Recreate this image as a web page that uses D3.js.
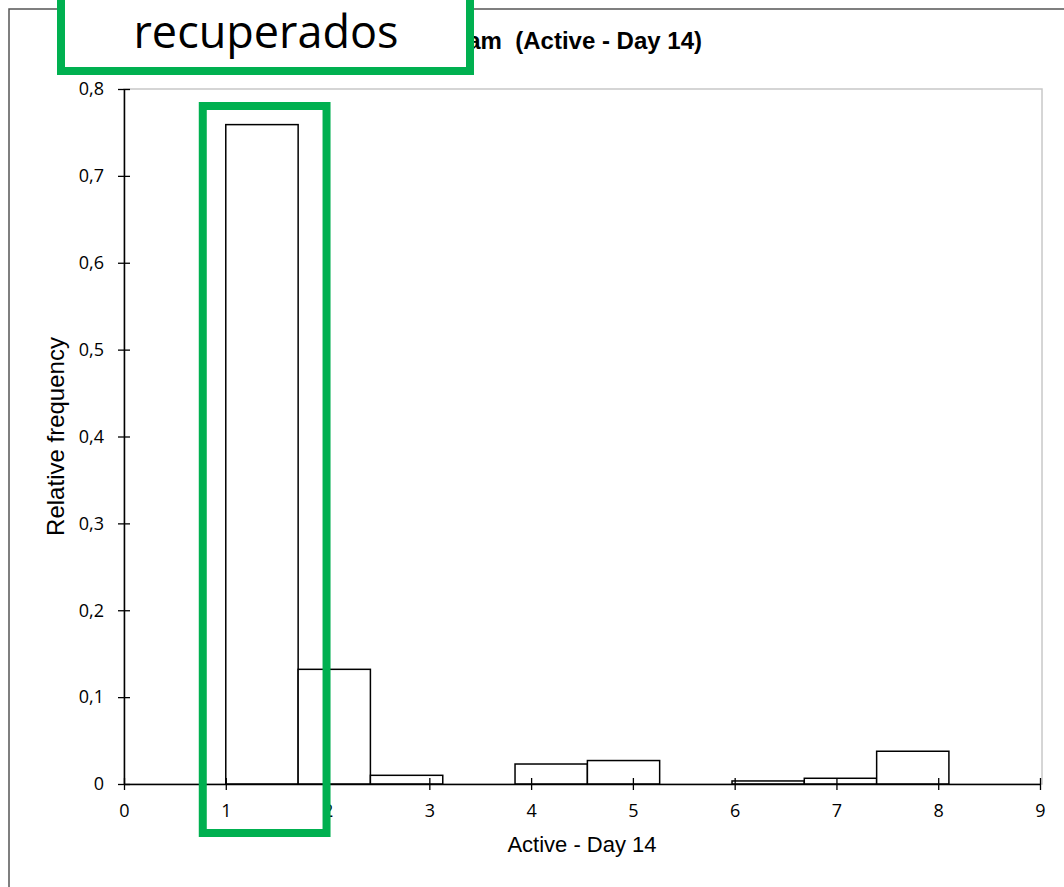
<!DOCTYPE html>
<html>
<head>
<meta charset="utf-8">
<title>Histogram (Active - Day 14)</title>
<script src="https://d3js.org/d3.v7.min.js"></script>
<style>
  body { margin: 0; background: #fff; }
  svg { display: block; }
</style>
</head>
<body>
<div id="chart"></div>
<script>
// bin edges of the histogram (Active - Day 14)
var binEdges = [1, 1.711, 2.421, 3.132, 3.842, 4.553, 5.263, 5.974, 6.684, 7.395, 8.105];
// relative frequency of each bin
var frequencies = [0.759, 0.132, 0.010, 0, 0.023, 0.027, 0, 0.0035, 0.0066, 0.0377];
var xTicks = [0, 1, 2, 3, 4, 5, 6, 7, 8, 9];
var yTicks = [0, 0.1, 0.2, 0.3, 0.4, 0.5, 0.6, 0.7, 0.8];

var W = 1064, H = 887;
var margin = {top: 89, right: 24, bottom: 103, left: 124};

var svg = d3.select("#chart").append("svg")
  .attr("width", W)
  .attr("height", H);

// outer chart frame
svg.append("rect")
  .attr("x", 9).attr("y", 9)
  .attr("width", W + 20).attr("height", H + 20)
  .attr("fill", "none")
  .attr("stroke", "#555")
  .attr("stroke-width", 1.5);

var x = d3.scaleLinear().domain([0, 9]).range([margin.left, 1040]);
var y = d3.scaleLinear().domain([0, 0.8]).range([784, margin.top]);

// light plot frame (top / right)
svg.append("rect")
  .attr("x", x(0)).attr("y", y(0.8))
  .attr("width", x(9) - x(0) + 2).attr("height", y(0) - y(0.8))
  .attr("fill", "none")
  .attr("stroke", "#c8c8c8")
  .attr("stroke-width", 1.5);

var bins = frequencies.map(function(f, i) {
  return {x0: binEdges[i], x1: binEdges[i + 1], f: f};
}).filter(function(d) { return d.f > 0; });

svg.selectAll("rect.bar")
  .data(bins)
  .enter().append("rect")
    .attr("class", "bar")
    .attr("x", function(d) { return x(d.x0); })
    .attr("y", function(d) { return y(d.f); })
    .attr("width", function(d) { return x(d.x1) - x(d.x0); })
    .attr("height", function(d) { return y(0) - y(d.f); })
    .attr("fill", "#fff")
    .attr("stroke", "#000")
    .attr("stroke-width", 1.5);

// axes
var fmt = function(v) { return v === 0 ? "0" : d3.format(".1f")(v).replace(".", ","); };

var xAxis = svg.append("g")
  .attr("transform", "translate(0," + y(0) + ")")
  .call(d3.axisBottom(x).tickValues(xTicks).tickSizeInner(6).tickSizeOuter(0).tickPadding(14));
var yAxis = svg.append("g")
  .attr("transform", "translate(" + x(0) + ",0)")
  .call(d3.axisLeft(y).tickValues(yTicks).tickFormat(fmt).tickSizeInner(6).tickSizeOuter(0).tickPadding(14));

[xAxis, yAxis].forEach(function(g) {
  g.select(".domain").attr("stroke", "#000").attr("stroke-width", 1.5);
  g.selectAll(".tick line").attr("stroke", "#000").attr("stroke-width", 1.3);
  g.selectAll(".tick text")
    .attr("fill", "#000")
    .style("font-family", "'Open Sans', sans-serif")
    .style("font-size", "18px");
});
// ticks cross the axis line
xAxis.selectAll(".tick line").attr("y1", -6).attr("y2", 6);
yAxis.selectAll(".tick line").attr("x1", -6).attr("x2", 6);

// axis titles
svg.append("text")
  .attr("x", (x(0) + x(9)) / 2)
  .attr("y", 852)
  .attr("text-anchor", "middle")
  .style("font-family", "'Liberation Sans', Arial, sans-serif")
  .style("font-size", "22px")
  .text("Active - Day 14");

svg.append("text")
  .attr("transform", "translate(64," + ((y(0) + y(0.8)) / 2) + ") rotate(-90)")
  .attr("text-anchor", "middle")
  .style("font-family", "'Liberation Sans', Arial, sans-serif")
  .style("font-size", "24px")
  .text("Relative frequency");

// chart title
svg.append("text")
  .attr("x", 702)
  .attr("y", 49)
  .attr("text-anchor", "end")
  .style("white-space", "pre")
  .style("font-family", "'Liberation Sans', Arial, sans-serif")
  .style("font-weight", "bold")
  .style("font-size", "24px")
  .text("Histogram  (Active - Day 14)");

// green annotation boxes
svg.append("rect")
  .attr("x", 61).attr("y", -20)
  .attr("width", 409).attr("height", 91)
  .attr("fill", "#fff")
  .attr("stroke", "#00b050")
  .attr("stroke-width", 8);

svg.append("text")
  .attr("x", 266)
  .attr("y", 48)
  .attr("text-anchor", "middle")
  .style("font-family", "'Open Sans', sans-serif")
  .style("font-size", "45px")
  .text("recuperados");

svg.append("rect")
  .attr("x", x(0.774)).attr("y", 106)
  .attr("width", x(1.99) - x(0.774)).attr("height", 727)
  .attr("fill", "none")
  .attr("stroke", "#00b050")
  .attr("stroke-width", 8);
</script>
</body>
</html>
